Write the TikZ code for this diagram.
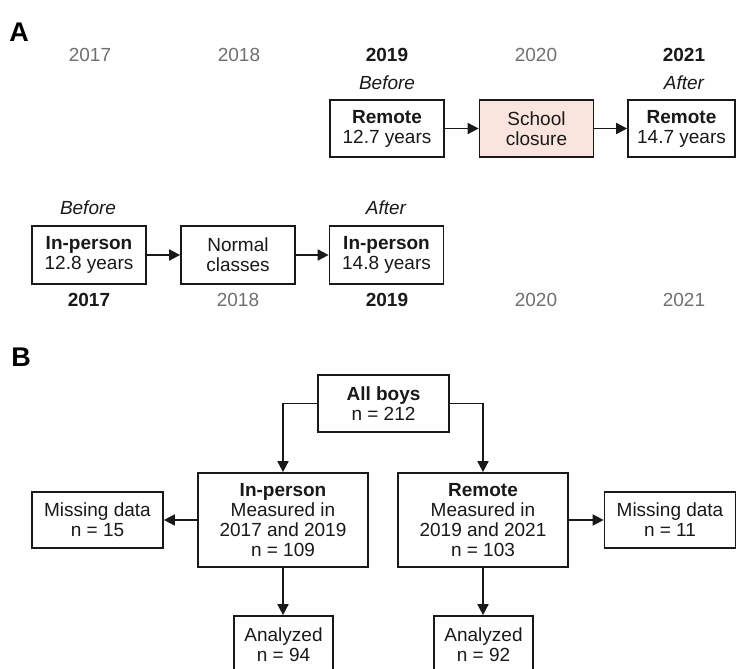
\documentclass[tikz,border=0pt]{standalone}
\usepackage{fontspec}
\setmainfont{Liberation Sans}
\usetikzlibrary{arrows.meta}
\definecolor{closurepink}{RGB}{250,228,222}
\definecolor{yrgray}{RGB}{112,112,112}
\definecolor{ink}{RGB}{25,25,25}
\begin{document}
\begin{tikzpicture}[x=1pt,y=-1pt,
  txt/.style={font=\fontsize{19}{20}\selectfont, text=ink},
  box/.style={txt, draw=ink, line width=1.7pt, inner sep=0pt, align=center,
              minimum width=114pt, minimum height=57pt},
  yr/.style={txt, text=yrgray, inner sep=0pt},
  yrb/.style={txt, font=\fontsize{19}{20}\selectfont\bfseries, inner sep=0pt},
  lbl/.style={txt, font=\fontsize{19}{20}\selectfont\itshape, inner sep=0pt},
  panel/.style={font=\fontsize{27}{30}\selectfont\bfseries, inner sep=0pt},
  arr/.style={draw=ink, line width=1.7pt, -{Triangle[length=11pt,width=11pt]}},
]
\clip (0,0) rectangle (737,669);
\fill[white] (0,0) rectangle (737,669);

% ---------- Panel A ----------
\node[panel] (pA) at (19,32) {A};

\node[yr]  (t17) at (90,55)  {2017};
\node[yr]  (t18) at (239,55) {2018};
\node[yrb] (t19) at (387,55) {2019};
\node[yr]  (t20) at (536,55) {2020};
\node[yrb] (t21) at (684,55) {2021};

\node[lbl] (tbef) at (387,83) {Before};
\node[lbl] (taft) at (684,83) {After};

\node[box] (r1) at (387,128.5) {\textbf{Remote}\\12.7 years};
\node[box, fill=closurepink] (sc) at (536.5,128.5) {School\\closure};
\node[box, minimum width=107pt] (r2) at (681.5,128.5) {\textbf{Remote}\\14.7 years};
\draw[arr] (r1) -- (sc);
\draw[arr] (sc) -- (r2);

\node[lbl] (bbef) at (88,208) {Before};
\node[lbl] (baft) at (386,208) {After};

\node[box, minimum height=58pt] (i1) at (89,255) {\textbf{In-person}\\12.8 years};
\node[box, minimum height=58pt] (nc) at (238,255) {Normal\\classes};
\node[box, minimum height=58pt] (i2) at (386.5,255) {\textbf{In-person}\\14.8 years};
\draw[arr] (i1) -- (nc);
\draw[arr] (nc) -- (i2);

\node[yrb] (b17) at (89,300)  {2017};
\node[yr]  (b18) at (238,300) {2018};
\node[yrb] (b19) at (387,300) {2019};
\node[yr]  (b20) at (536,300) {2020};
\node[yr]  (b21) at (684,300) {2021};

% ---------- Panel B ----------
\node[panel] (pB) at (21,357) {B};

\node[box, minimum width=131pt, minimum height=57pt] (all) at (383.5,403.5) {\textbf{All boys}\\n = 212};

\node[box, minimum width=170pt, minimum height=94pt] (inp) at (283,520)
  {\textbf{In-person}\\Measured in\\2017 and 2019\\n = 109};
\node[box, minimum width=170pt, minimum height=94pt] (rem) at (483,520)
  {\textbf{Remote}\\Measured in\\2019 and 2021\\n = 103};

\node[box, minimum width=131pt, minimum height=56pt] (mis1) at (97.5,520) {Missing data\\n = 15};
\node[box, minimum width=131pt, minimum height=56pt] (mis2) at (670,520) {Missing data\\n = 11};

\node[box, minimum width=99pt, minimum height=58pt] (an1) at (283.5,645) {Analyzed\\n = 94};
\node[box, minimum width=99pt, minimum height=58pt] (an2) at (483.5,645) {Analyzed\\n = 92};

\draw[arr] (all.west) -| (inp.north);
\draw[arr] (all.east) -| (rem.north);
\draw[arr] (inp.west) -- (mis1.east);
\draw[arr] (rem.east) -- (mis2.west);
\draw[arr] (inp.south) -- (an1.north -| inp.south);
\draw[arr] (rem.south) -- (an2.north -| rem.south);
\end{tikzpicture}
\end{document}
